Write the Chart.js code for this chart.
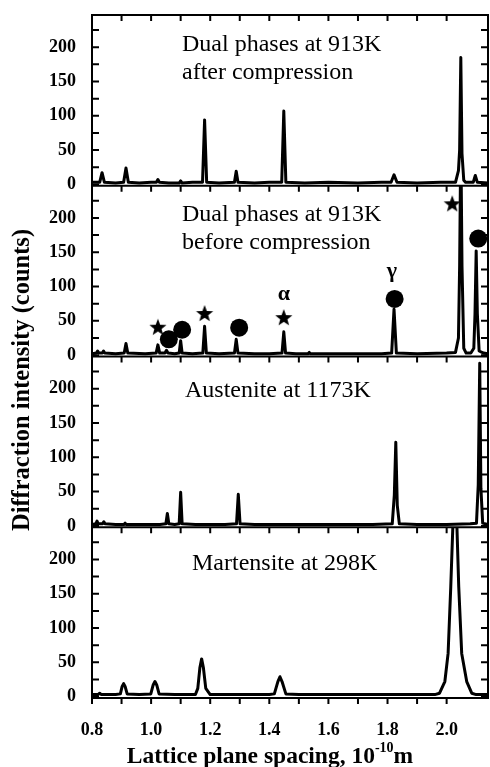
<!DOCTYPE html>
<html>
<head>
<meta charset="utf-8">
<script src="https://cdn.jsdelivr.net/npm/chart.js@4.4.1/dist/chart.umd.min.js"></script>
<style>
  html, body { margin: 0; padding: 0; background: #fff; }
  canvas { display: block; }
</style>
</head>
<body>
<canvas id="xrdChart" width="490" height="767"></canvas>
<script>
  // lattice spacing (10^-10 m) and counts
  const afterX = [0.800, 0.826, 0.834, 0.842, 0.880, 0.907, 0.915, 0.923, 0.960, 1.000, 1.018, 1.023, 1.028, 1.060, 1.095, 1.100, 1.105, 1.140, 1.174, 1.181, 1.188, 1.230, 1.282, 1.288, 1.294, 1.350, 1.400, 1.442, 1.449, 1.456, 1.520, 1.600, 1.700, 1.780, 1.812, 1.822, 1.832, 1.900, 1.980, 2.030, 2.040, 2.044, 2.048, 2.052, 2.058, 2.064, 2.090, 2.097, 2.104, 2.140];
  const afterY = [3, 3, 17, 3, 2, 3, 24, 3, 2, 3, 3, 7, 3, 2, 2, 5, 2, 3, 3, 94, 3, 2, 3, 19, 3, 2, 3, 3, 107, 3, 2, 3, 2, 3, 3, 14, 3, 2, 3, 3, 20, 50, 185, 45, 6, 3, 3, 13, 3, 2];

  const beforeX = [0.800, 0.815, 0.819, 0.823, 0.835, 0.839, 0.843, 0.880, 0.909, 0.915, 0.921, 0.980, 1.017, 1.023, 1.029, 1.047, 1.052, 1.057, 1.080, 1.095, 1.100, 1.105, 1.140, 1.175, 1.181, 1.187, 1.230, 1.282, 1.288, 1.294, 1.350, 1.400, 1.443, 1.449, 1.455, 1.490, 1.531, 1.535, 1.539, 1.600, 1.700, 1.780, 1.814, 1.822, 1.830, 1.900, 2.000, 2.030, 2.040, 2.044, 2.048, 2.052, 2.058, 2.066, 2.082, 2.092, 2.096, 2.100, 2.104, 2.110, 2.125, 2.140];
  const beforeY = [2, 3, 6, 3, 3, 6, 3, 2, 3, 17, 3, 2, 3, 15, 3, 3, 7, 3, 2, 3, 21, 3, 2, 3, 42, 3, 2, 3, 23, 3, 2, 2, 3, 34, 3, 2, 2, 4, 2, 2, 2, 2, 3, 67, 3, 2, 3, 4, 25, 130, 320, 130, 10, 3, 3, 10, 60, 152, 60, 6, 3, 2];

  const austX = [0.800, 0.813, 0.817, 0.821, 0.836, 0.840, 0.844, 0.880, 0.908, 0.912, 0.916, 0.980, 1.030, 1.050, 1.055, 1.060, 1.080, 1.095, 1.100, 1.105, 1.150, 1.200, 1.250, 1.289, 1.295, 1.301, 1.350, 1.450, 1.550, 1.650, 1.750, 1.816, 1.823, 1.828, 1.833, 1.840, 1.900, 2.000, 2.080, 2.101, 2.107, 2.112, 2.116, 2.122, 2.140];
  const austY = [2, 3, 7, 3, 3, 6, 3, 2, 2, 4, 2, 2, 2, 3, 18, 3, 2, 3, 49, 3, 2, 2, 2, 3, 46, 3, 2, 2, 2, 2, 2, 3, 45, 122, 30, 3, 2, 2, 3, 4, 60, 237, 55, 4, 2];

  const martX = [0.800, 0.820, 0.826, 0.832, 0.880, 0.896, 0.902, 0.907, 0.912, 0.919, 0.960, 0.999, 1.007, 1.013, 1.019, 1.027, 1.080, 1.150, 1.158, 1.165, 1.171, 1.177, 1.185, 1.200, 1.300, 1.400, 1.417, 1.429, 1.436, 1.443, 1.456, 1.500, 1.600, 1.700, 1.800, 1.900, 1.960, 1.976, 1.994, 2.005, 2.014, 2.022, 2.028, 2.034, 2.041, 2.051, 2.068, 2.085, 2.100, 2.140];
  const martY = [3, 3, 5, 3, 3, 4, 15, 19, 15, 4, 3, 4, 17, 22, 17, 4, 3, 3, 12, 42, 55, 42, 12, 3, 3, 3, 4, 22, 29, 22, 4, 3, 3, 3, 3, 3, 3, 5, 22, 63, 160, 260, 330, 260, 160, 63, 22, 5, 3, 3];

  // phase markers on the "before compression" pattern
  const starX = [1.023, 1.181, 1.449, 2.019];
  const starY = [40, 60, 54, 220];
  const dotX = [1.060, 1.105, 1.298, 1.824, 2.107];
  const dotY = [23, 37, 40, 82, 170];
  const phaseNames = ['α', 'γ'];
  const phaseX = [1.449, 1.815];
  const phaseY = [88, 122];

  const panelTitles = [
    ['Dual phases at 913K', 'after compression'],
    ['Dual phases at 913K', 'before compression'],
    ['Austenite at 1173K'],
    ['Martensite at 298K']
  ];
  const yTicks = [0, 25, 50, 75, 100, 125, 150, 175, 200, 225];
  const yTickLabels = [0, 50, 100, 150, 200];
  const xTickLabels = ['0.8', '1.0', '1.2', '1.4', '1.6', '1.8', '2.0'];

  // top to bottom
  const panelAxes = ['yAfter', 'yBefore', 'yAust', 'yMart'];
  // title left edge (px) and line centres below panel top (px)
  const titlePos = [[182, [30, 58]], [182, [29, 57]], [185, [34]], [192, [36]]];

  const serif = "'Liberation Serif', 'Times New Roman', serif";

  function pts(xs, ys) {
    return xs.map((x, i) => ({ x: x, y: ys[i] }));
  }

  function makeStar(r) {
    const c = document.createElement('canvas');
    c.width = c.height = 2 * r + 2;
    const g = c.getContext('2d');
    g.beginPath();
    for (let i = 0; i < 10; i++) {
      const rr = i % 2 ? r * 0.42 : r;
      const a = -Math.PI / 2 + i * Math.PI / 5;
      g.lineTo(r + 1 + rr * Math.cos(a), r + 1 + rr * Math.sin(a));
    }
    g.closePath();
    g.fillStyle = '#000';
    g.fill();
    return c;
  }

  function pattern(xs, ys, axis) {
    return {
      type: 'line',
      data: pts(xs, ys),
      yAxisID: axis,
      borderColor: '#000',
      borderWidth: 3,
      borderJoinStyle: 'round',
      pointRadius: 0,
      tension: 0
    };
  }

  function yAxis() {
    return {
      type: 'linear',
      position: 'left',
      stack: 'panels',
      stackWeight: 1,
      min: -2,
      max: 247,
      grid: { display: false },
      border: { display: false },
      afterBuildTicks: s => { s.ticks = yTicks.map(v => ({ value: v })); },
      ticks: {
        padding: 8,
        color: '#000',
        autoSkip: false,
        font: { family: serif, size: 18, weight: 'bold' },
        callback: v => yTickLabels.includes(v) ? String(v) : ''
      },
      afterFit: s => {
        s.width = 92;
        s.paddingTop = 0;
        s.paddingBottom = 0;
      }
    };
  }

  const framePlugin = {
    id: 'frame',
    beforeDatasetDraw(chart, args) {
      const ys = chart.scales[args.meta.yAxisID];
      const a = chart.chartArea;
      const ctx = chart.ctx;
      ctx.save();
      ctx.beginPath();
      ctx.rect(a.left, ys.top, a.right - a.left, ys.bottom - ys.top);
      ctx.clip();
    },
    afterDatasetDraw(chart) {
      chart.ctx.restore();
    },
    afterDraw(chart) {
      const ctx = chart.ctx;
      const a = chart.chartArea;
      const xs = chart.scales.x;
      ctx.save();
      ctx.strokeStyle = '#000';
      ctx.lineWidth = 2;
      ctx.strokeRect(a.left, a.top, a.right - a.left, a.bottom - a.top);

      // panel borders and x ticks (pointing down from every border)
      const rows = [a.top].concat(panelAxes.map(id => chart.scales[id].bottom));
      ctx.beginPath();
      rows.forEach(y => { ctx.moveTo(a.left, y); ctx.lineTo(a.right, y); });
      xs.ticks.forEach(t => {
        if (Math.abs(t.value * 10 - Math.round(t.value * 10)) > 1e-6) return;
        const px = xs.getPixelForValue(t.value);
        rows.forEach(y => { ctx.moveTo(px, y); ctx.lineTo(px, y + 6); });
      });
      // y ticks, inward on both sides
      panelAxes.forEach(id => {
        const ys = chart.scales[id];
        yTicks.forEach(v => {
          const py = ys.getPixelForValue(v);
          ctx.moveTo(a.left, py); ctx.lineTo(a.left + 7, py);
          ctx.moveTo(a.right, py); ctx.lineTo(a.right - 7, py);
        });
      });
      ctx.stroke();

      // panel titles
      ctx.fillStyle = '#000';
      ctx.font = '24px ' + serif;
      ctx.textAlign = 'left';
      ctx.textBaseline = 'middle';
      panelAxes.forEach((id, i) => {
        const top = chart.scales[id].top;
        panelTitles[i].forEach((line, j) => {
          ctx.fillText(line, titlePos[i][0], top + titlePos[i][1][j]);
        });
      });

      // phase labels
      const yb = chart.scales.yBefore;
      ctx.font = 'bold 22px ' + serif;
      ctx.textAlign = 'center';
      phaseNames.forEach((n, i) => {
        ctx.fillText(n, xs.getPixelForValue(phaseX[i]), yb.getPixelForValue(phaseY[i]));
      });

      // y title
      ctx.font = 'bold 24.5px ' + serif;
      ctx.save();
      ctx.translate(23, 380);
      ctx.rotate(-Math.PI / 2);
      ctx.fillText('Diffraction intensity (counts)', 0, 0);
      ctx.restore();

      // x title with superscript
      const main = 'Lattice plane spacing, 10';
      const sup = '-10';
      const unit = 'm';
      ctx.font = 'bold 23.5px ' + serif;
      const wMain = ctx.measureText(main).width;
      const wUnit = ctx.measureText(unit).width;
      ctx.font = 'bold 14px ' + serif;
      const wSup = ctx.measureText(sup).width;
      const x0 = 270 - (wMain + wSup + wUnit) / 2;
      const yT = 757;
      ctx.textAlign = 'left';
      ctx.font = 'bold 23.5px ' + serif;
      ctx.fillText(main, x0, yT);
      ctx.font = 'bold 14px ' + serif;
      ctx.fillText(sup, x0 + wMain, yT - 9);
      ctx.font = 'bold 23.5px ' + serif;
      ctx.fillText(unit, x0 + wMain + wSup, yT);
      ctx.restore();
    }
  };

  const starImg = makeStar(9);

  const ctx = document.getElementById('xrdChart').getContext('2d');
  const xrdChart = new Chart(ctx, {
    type: 'line',
    data: {
      datasets: [
        pattern(afterX, afterY, 'yAfter'),
        pattern(beforeX, beforeY, 'yBefore'),
        pattern(austX, austY, 'yAust'),
        pattern(martX, martY, 'yMart'),
        {
          type: 'scatter',
          data: pts(starX, starY),
          yAxisID: 'yBefore',
          pointStyle: starImg,
          pointRadius: 9,
          showLine: false
        },
        {
          type: 'scatter',
          data: pts(dotX, dotY),
          yAxisID: 'yBefore',
          pointStyle: 'circle',
          pointRadius: 9,
          backgroundColor: '#000',
          borderColor: '#000',
          borderWidth: 0,
          showLine: false
        }
      ]
    },
    options: {
      responsive: false,
      animation: false,
      devicePixelRatio: 1,
      layout: { autoPadding: false, padding: { top: 15, right: 2, left: 0, bottom: 0 } },
      plugins: {
        legend: { display: false },
        tooltip: { enabled: false }
      },
      scales: {
        x: {
          type: 'linear',
          min: 0.8,
          max: 2.14,
          grid: { display: false },
          border: { display: false },
          ticks: {
            stepSize: 0.1,
            padding: 14,
            maxRotation: 0,
            autoSkip: false,
            color: '#000',
            font: { family: serif, size: 18, weight: 'bold' },
            callback: v => {
              const s = (Math.round(v * 10) / 10).toFixed(1);
              return xTickLabels.includes(s) && Math.abs(v * 10 - Math.round(v * 10)) < 1e-6 ? s : '';
            }
          },
          afterFit: s => {
            s.height = 69;
            s.paddingLeft = 0;
            s.paddingRight = 0;
          }
        },
        yMart: yAxis(),
        yAust: yAxis(),
        yBefore: yAxis(),
        yAfter: yAxis()
      }
    },
    plugins: [framePlugin]
  });
</script>
</body>
</html>
